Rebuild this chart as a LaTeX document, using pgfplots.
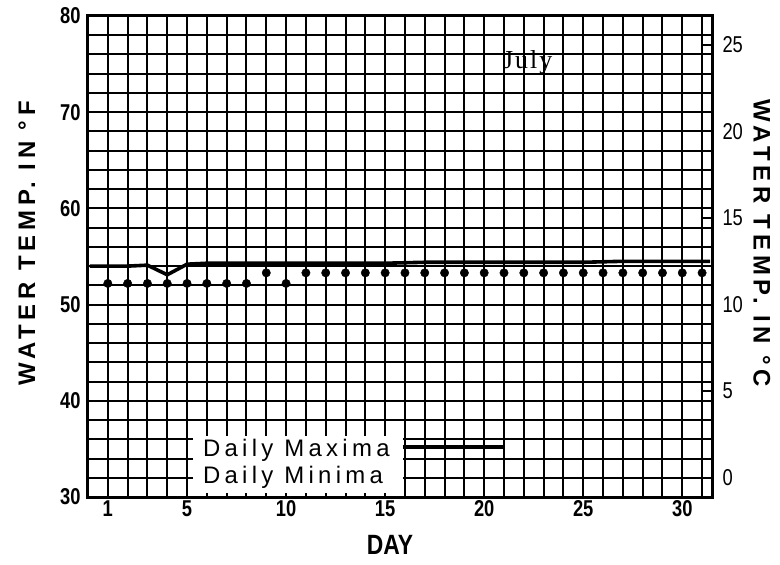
\documentclass[border=0pt]{standalone}
\usepackage{pgfplots}
\pgfplotsset{compat=1.18}
\usepackage{fontspec}
\setmainfont{Liberation Sans}
\newfontfamily\seriffont[LetterSpace=8]{Liberation Serif}
\newfontfamily\lblfont[LetterSpace=20]{Liberation Sans}
\newfontfamily\legfont[LetterSpace=18]{Liberation Sans}

\pgfplotstableread{
day  tmax
0.1  54.0
1    54.0
2    54.0
3    54.1
4    53.1
5    54.2
6    54.3
7    54.3
8    54.3
9    54.3
10   54.3
11   54.3
12   54.3
13   54.3
14   54.3
15   54.3
16   54.35
17   54.4
18   54.4
19   54.4
20   54.4
21   54.4
22   54.4
23   54.4
24   54.4
25   54.4
26   54.45
27   54.5
28   54.5
29   54.5
30   54.5
31   54.5
31.4 54.5
}\maxtable

\pgfplotstableread{
day  tmin
1    52.2
2    52.2
3    52.2
4    52.2
5    52.2
6    52.2
7    52.2
8    52.2
9    53.3
10   52.2
11   53.3
12   53.3
13   53.3
14   53.3
15   53.3
16   53.3
17   53.3
18   53.3
19   53.3
20   53.3
21   53.3
22   53.3
23   53.3
24   53.3
25   53.3
26   53.3
27   53.3
28   53.3
29   53.3
30   53.3
31   53.3
}\mintable

\begin{document}
\begin{tikzpicture}
\begin{axis}[
  name=main,
  scale only axis,
  width=624bp, height=481bp,
  xmin=0, xmax=31.5, ymin=30, ymax=80,
  xtick={1,5,10,15,20,25,30},
  minor xtick={1,...,31},
  ytick={30,40,...,80},
  minor ytick={32,34,...,78},
  grid=both,
  major grid style={black, line width=2bp},
  minor grid style={black, line width=2bp},
  tick style={draw=none},
  axis line style={black, line width=3bp},
  /pgf/number format/assume math mode=true,
  xticklabel={\scalebox{0.8}[1]{\bfseries\fontsize{23}{23}\selectfont\pgfmathprintnumber{\tick}}},
  yticklabel={\scalebox{0.8}[1]{\bfseries\fontsize{23}{23}\selectfont\pgfmathprintnumber{\tick}}},
  yticklabel style={xshift=-4bp},
  clip=false,
]
\addplot[black, line width=3.6bp, line join=round] table[x=day,y=tmax] {\maxtable};
\addplot[only marks, mark=*, mark size=4.2bp, black] table[x=day,y=tmin] {\mintable};

\fill[white] (axis cs:5.3,30.4) rectangle (axis cs:15.9,36.3);
\node[anchor=west, inner sep=0, font=\legfont\fontsize{24}{24}\selectfont] at (axis cs:5.8,34.9) {Daily Maxima};
\node[anchor=west, inner sep=0, font=\legfont\fontsize{24}{24}\selectfont] at (axis cs:5.8,32.0) {Daily Minima};
\draw[black, line width=3.2bp] (axis cs:15.9,35.2) -- (axis cs:21.0,35.2);

\node[font=\seriffont\fontsize{26}{26}\selectfont] at (axis cs:22.2,75.2) {July};

\node[rotate=90, font=\lblfont\bfseries\fontsize{24}{24}\selectfont] at (axis description cs:-0.098,0.527) {WATER TEMP. IN °F};
\node[rotate=-90, font=\lblfont\bfseries\fontsize{24}{24}\selectfont] at (axis description cs:1.080,0.527) {WATER TEMP. IN °C};
\node[font=\bfseries\fontsize{28}{28}\selectfont] at (axis description cs:0.484,-0.1) {\scalebox{0.82}[1]{DAY}};
\end{axis}

\begin{axis}[
  scale only axis,
  width=624bp, height=481bp,
  xmin=0, xmax=31.5, ymin=-1.1111, ymax=26.6667,
  axis x line=none,
  axis y line*=right,
  ytick={0,5,...,25},
  tick align=inside,
  major tick length=9bp,
  tick style={black, line width=2bp},
  axis line style={black, line width=3bp, -},
  /pgf/number format/assume math mode=true,
  yticklabel={\scalebox{0.8}[1]{\fontsize{23}{23}\selectfont\pgfmathprintnumber{\tick}}},
  yticklabel style={xshift=7bp},
]
\end{axis}

\pgfresetboundingbox
\path (main.south west) ++(-88bp,-68bp) rectangle ++(780bp,565bp);
\end{tikzpicture}
\end{document}
